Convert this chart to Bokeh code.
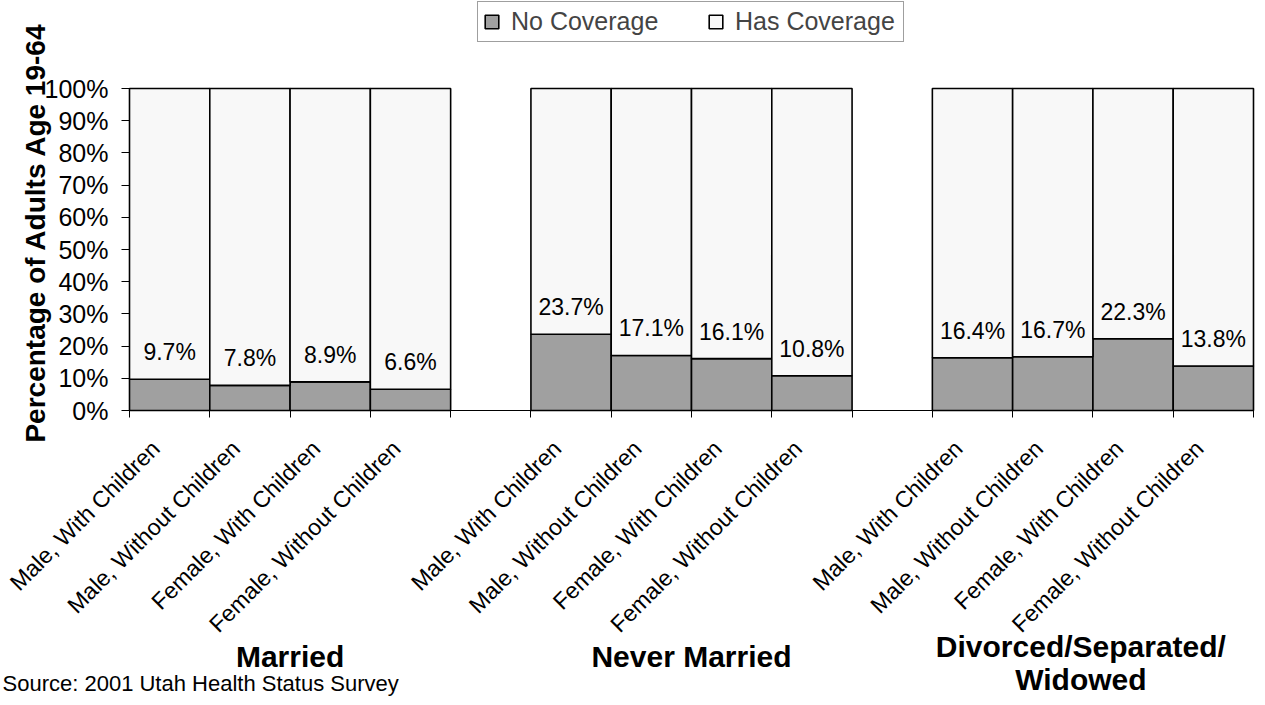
import math
from bokeh.plotting import figure
from bokeh.models import (Range1d, FixedTicker, NumeralTickFormatter, Label,
                          Legend, LegendItem, ColumnDataSource)
from bokeh.core.properties import value
from bokeh.embed import file_html
from bokeh.resources import INLINE

# ---- data ----
groups = ["Married", "Never Married", "Divorced/Separated/", "Widowed"]
subcats = ["Male, With Children", "Male, Without Children",
           "Female, With Children", "Female, Without Children"]
no_coverage = [9.7, 7.8, 8.9, 6.6, 23.7, 17.1, 16.1, 10.8, 16.4, 16.7, 22.3, 13.8]
has_coverage = [90.3, 92.2, 91.1, 93.4, 76.3, 82.9, 83.9, 89.2, 83.6, 83.3, 77.7, 86.2]
y_ticks = [0, 0.1, 0.2, 0.3, 0.4, 0.5, 0.6, 0.7, 0.8, 0.9, 1.0]
source_note = "Source: 2001 Utah Health Status Survey"
y_title = "Percentage of Adults Age 19-64"
series_names = ["No Coverage", "Has Coverage"]

FONT = "Liberation Sans"
GRAY = "#a0a0a0"
LIGHT = "#f8f8f8"

W, H = 1257, 697
n_groups = 3
n_sub = len(subcats)
slots = n_groups * (n_sub + 1) - 1  # one empty slot between groups

# pixel layout of the plotting area inside the canvas
PX_LEFT, PX_RIGHT, PX_TOP, PX_BOTTOM = 129, 1253, 88, 410
ux = (PX_RIGHT - PX_LEFT) / slots          # px per slot
uy = (PX_BOTTOM - PX_TOP) / 1.0            # px per 100 %

def dx(px):
    return (px - PX_LEFT) / ux

def dy(py):
    return (PX_BOTTOM - py) / uy

centers = []
labels = []
for g in range(n_groups):
    for j in range(n_sub):
        centers.append(g * (n_sub + 1) + j + 0.5)
        labels.append(subcats[j])

nc = [v / 100 for v in no_coverage]
hc = [v / 100 for v in has_coverage]
src = ColumnDataSource(dict(
    x=centers, nc=nc, total=[a + b for a, b in zip(nc, hc)],
    zero=[0] * len(nc), lab=[f"{v:.1f}%" for v in no_coverage]))

p = figure(width=W, height=H, output_backend="svg", toolbar_location=None,
           x_range=Range1d(dx(0), dx(W)), y_range=Range1d(dy(H), dy(0)),
           min_border_left=0, min_border_right=0, min_border_top=0,
           min_border_bottom=0, outline_line_color=None,
           background_fill_color="white", border_fill_color="white")
p.title.visible = False
p.xgrid.visible = False
p.ygrid.visible = False

r_nc = p.vbar(x="x", width=1.0, bottom="zero", top="nc", source=src,
              fill_color=GRAY, line_color="black", line_width=1.6)
r_hc = p.vbar(x="x", width=1.0, bottom="nc", top="total", source=src,
              fill_color=LIGHT, line_color="black", line_width=1.6)

p.text(x="x", y="nc", text="lab", source=src, text_align="center",
       text_baseline="middle", y_offset=-27, text_font=value(FONT),
       text_font_size="23px", text_color="black")

# y axis
ya = p.yaxis[0]
ya.fixed_location = 0
ya.bounds = (0, 1)
ya.ticker = FixedTicker(ticks=y_ticks, minor_ticks=[])
ya.formatter = NumeralTickFormatter(format="0%")
ya.major_label_text_font = FONT
ya.major_label_text_font_size = "25px"
ya.major_label_text_color = "black"
ya.major_tick_out = 8
ya.major_tick_in = 0
ya.major_label_standoff = 13
ya.axis_line_color = "black"
ya.major_tick_line_color = "black"

# x axis
label_shift = 14 / ux
xa = p.xaxis[0]
xa.fixed_location = 0
xa.bounds = (0, slots)
label_ticks = [c - label_shift for c in centers]
xa.ticker = FixedTicker(ticks=label_ticks, minor_ticks=list(range(slots + 1)))
xa.major_label_overrides = {t: l for t, l in zip(label_ticks, labels)}
xa.major_label_orientation = math.pi / 4
xa.major_label_text_font = FONT
xa.major_label_text_font_size = "23px"
xa.major_label_text_color = "black"
xa.major_tick_out = 0
xa.major_tick_in = 0
xa.minor_tick_out = 7
xa.minor_tick_in = 0
xa.minor_tick_line_color = "black"
xa.major_label_standoff = 27
xa.axis_line_color = "black"

# group titles
group_pos = [(2.0, dy(656), groups[0]), (7.0, dy(656), groups[1]),
             (11.85, dy(646), groups[2]), (11.85, dy(679), groups[3])]
for gx, gy, gt in group_pos:
    p.add_layout(Label(x=gx, y=gy, text=gt, text_align="center",
                       text_baseline="middle", text_font=FONT,
                       text_font_size="30px", text_font_style="bold",
                       text_color="black"))

p.add_layout(Label(x=dx(35), y=dy(232), text=y_title, angle=math.pi / 2,
                   text_align="center", text_baseline="middle", text_font=FONT,
                   text_font_size="28px", text_font_style="bold",
                   text_color="black"))

p.add_layout(Label(x=dx(2), y=dy(695), text=source_note, text_align="left",
                   text_baseline="bottom", text_font=FONT, text_font_size="22px",
                   text_color="black"))

legend = Legend(items=[LegendItem(label=series_names[0], renderers=[r_nc]),
                       LegendItem(label=series_names[1], renderers=[r_hc])],
                orientation="horizontal", location=(477, H - 42),
                label_text_font=FONT, label_text_font_size="25px",
                glyph_width=17, glyph_height=17, label_standoff=11,
                label_width=163, spacing=33, padding=5, margin=0,
                border_line_color="#404040", border_line_width=1,
                background_fill_color="white", background_fill_alpha=1)
p.add_layout(legend, "center")

open("out.html", "w").write(file_html(p, INLINE))
